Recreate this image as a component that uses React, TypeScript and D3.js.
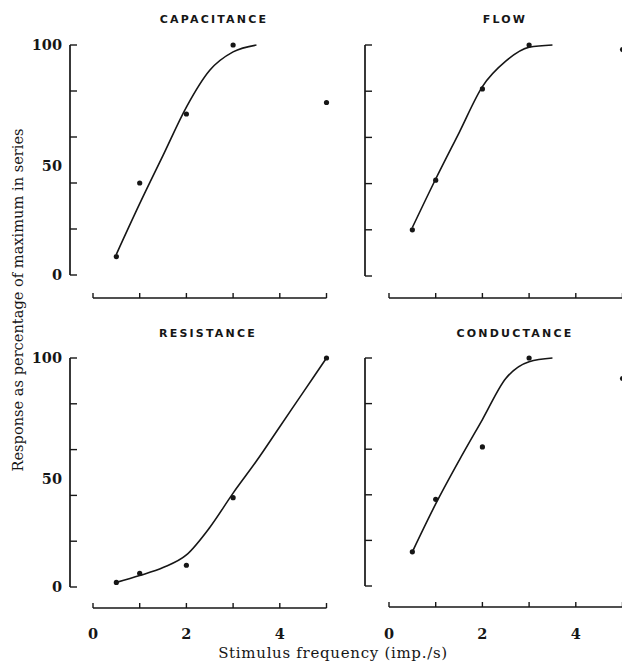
import React from "react";
import * as d3 from "d3";

// ---- data ----
const panelTitles = ["CAPACITANCE", "FLOW", "RESISTANCE", "CONDUCTANCE"];

const capacitancePoints: [number, number][] = [[0.5, 8], [1, 40], [2, 70], [3, 100], [5, 75]];
const capacitanceCurve: [number, number][] = [[0.5, 9], [1, 31], [1.5, 52], [2, 73], [2.5, 89], [3, 97], [3.5, 100]];

const flowPoints: [number, number][] = [[0.5, 20], [1, 41.5], [2, 81], [3, 100], [5, 98]];
const flowCurve: [number, number][] = [[0.5, 21], [1, 42], [1.5, 62], [2, 82], [2.5, 93], [3, 99], [3.5, 100]];

const resistancePoints: [number, number][] = [[0.5, 2], [1, 6], [2, 9.5], [3, 39], [5, 100]];
const resistanceCurve: [number, number][] = [[0.5, 2], [1, 5], [1.5, 8.5], [2, 14], [2.5, 26], [3, 41], [3.5, 55], [4, 70], [4.5, 85], [5, 100]];

const conductancePoints: [number, number][] = [[0.5, 15], [1, 38], [2, 61], [3, 100], [5, 91]];
const conductanceCurve: [number, number][] = [[0.5, 15], [1, 36], [1.5, 55], [2, 73], [2.5, 91], [3, 98.4], [3.5, 100]];

const xTicks = [0, 1, 2, 3, 4, 5];
const xTickLabels = [0, 2, 4];
const yTicks = [0, 20, 40, 60, 80, 100];
const yTickLabels = [0, 50, 100];

const xTitle = "Stimulus frequency (imp./s)";
const yTitle = "Response as percentage of maximum in series";

// ---- layout ----
const W = 622;
const H = 664;
const INK = "#161616";

type Panel = {
  title: string;
  titleX: number;
  titleY: number;
  points: [number, number][];
  curve: [number, number][];
  yAxisX: number;
  yTop: number;
  yBottom: number;
  xAxisY: number;
  x0: number;
  showXLabels: boolean;
  showYLabels: boolean;
};

const UNIT = 46.7;

const panels: Panel[] = [
  { title: panelTitles[0], titleX: 214, titleY: 23, points: capacitancePoints, curve: capacitanceCurve,
    yAxisX: 70, yTop: 45, yBottom: 275, xAxisY: 298, x0: 93, showXLabels: false, showYLabels: true },
  { title: panelTitles[1], titleX: 505, titleY: 23, points: flowPoints, curve: flowCurve,
    yAxisX: 365, yTop: 45, yBottom: 276, xAxisY: 298, x0: 389, showXLabels: false, showYLabels: false },
  { title: panelTitles[2], titleX: 208, titleY: 337, points: resistancePoints, curve: resistanceCurve,
    yAxisX: 70, yTop: 358, yBottom: 587, xAxisY: 608, x0: 93, showXLabels: true, showYLabels: true },
  { title: panelTitles[3], titleX: 515, titleY: 337, points: conductancePoints, curve: conductanceCurve,
    yAxisX: 365, yTop: 358, yBottom: 586, xAxisY: 607, x0: 389, showXLabels: true, showYLabels: false },
];

function PanelView({ p }: { p: Panel }) {
  const x = d3.scaleLinear().domain([0, 5]).range([p.x0, p.x0 + 5 * UNIT]);
  const y = d3.scaleLinear().domain([0, 100]).range([p.yBottom, p.yTop]);
  const line = d3
    .line<[number, number]>()
    .x((d) => x(d[0]))
    .y((d) => y(d[1]))
    .curve(d3.curveMonotoneX);

  return (
    <g>
      <text
        x={p.titleX}
        y={p.titleY}
        textAnchor="middle"
        fontFamily="DejaVu Sans"
        fontWeight="bold"
        fontSize={11}
        letterSpacing={2.2}
        fill={INK}
      >
        {p.title}
      </text>

      {/* y axis */}
      <line x1={p.yAxisX} x2={p.yAxisX} y1={y(100)} y2={y(0)} stroke={INK} strokeWidth={1.7} />
      {yTicks.map((t) => (
        <line key={t} x1={p.yAxisX} x2={p.yAxisX + 7} y1={y(t)} y2={y(t)} stroke={INK} strokeWidth={1.4} />
      ))}
      {p.showYLabels &&
        yTickLabels.map((t) => (
          <text
            key={t}
            x={p.yAxisX - 8}
            y={y(t) + (t === 50 ? 6 : 0)}
            dy="0.36em"
            textAnchor="end"
            fontFamily="DejaVu Serif"
            fontWeight="bold"
            fontSize={14.5}
            fill={INK}
          >
            {t}
          </text>
        ))}

      {/* x axis */}
      <line x1={x(0)} x2={x(5)} y1={p.xAxisY} y2={p.xAxisY} stroke={INK} strokeWidth={1.7} />
      {xTicks.map((t) => (
        <line key={t} x1={x(t)} x2={x(t)} y1={p.xAxisY} y2={p.xAxisY - 5} stroke={INK} strokeWidth={1.4} />
      ))}
      {p.showXLabels &&
        xTickLabels.map((t) => (
          <text
            key={t}
            x={x(t)}
            y={639}
            textAnchor="middle"
            fontFamily="DejaVu Serif"
            fontWeight="bold"
            fontSize={14.5}
            fill={INK}
          >
            {t}
          </text>
        ))}

      {/* fitted curve */}
      <path d={line(p.curve) || ""} fill="none" stroke={INK} strokeWidth={1.6} />

      {/* observations */}
      {p.points.map((d, i) => (
        <circle key={i} cx={x(d[0])} cy={y(d[1])} r={2.6} fill={INK} />
      ))}
    </g>
  );
}

export default function App() {
  return (
    <svg
      width={W}
      height={H}
      viewBox={`0 0 ${W} ${H}`}
      style={{ position: "absolute", left: 0, top: 0, background: "#fff" }}
    >
      <rect x={0} y={0} width={W} height={H} fill="#fff" />
      {panels.map((p, i) => (
        <PanelView key={i} p={p} />
      ))}
      <text
        x={333}
        y={658}
        textAnchor="middle"
        fontFamily="DejaVu Serif"
        fontSize={15}
        letterSpacing={0.7}
        fill={INK}
      >
        {xTitle}
      </text>
      <text
        transform="translate(23,300) rotate(-90)"
        textAnchor="middle"
        fontFamily="DejaVu Serif"
        fontSize={14.6}
        fill={INK}
      >
        {yTitle}
      </text>
    </svg>
  );
}
